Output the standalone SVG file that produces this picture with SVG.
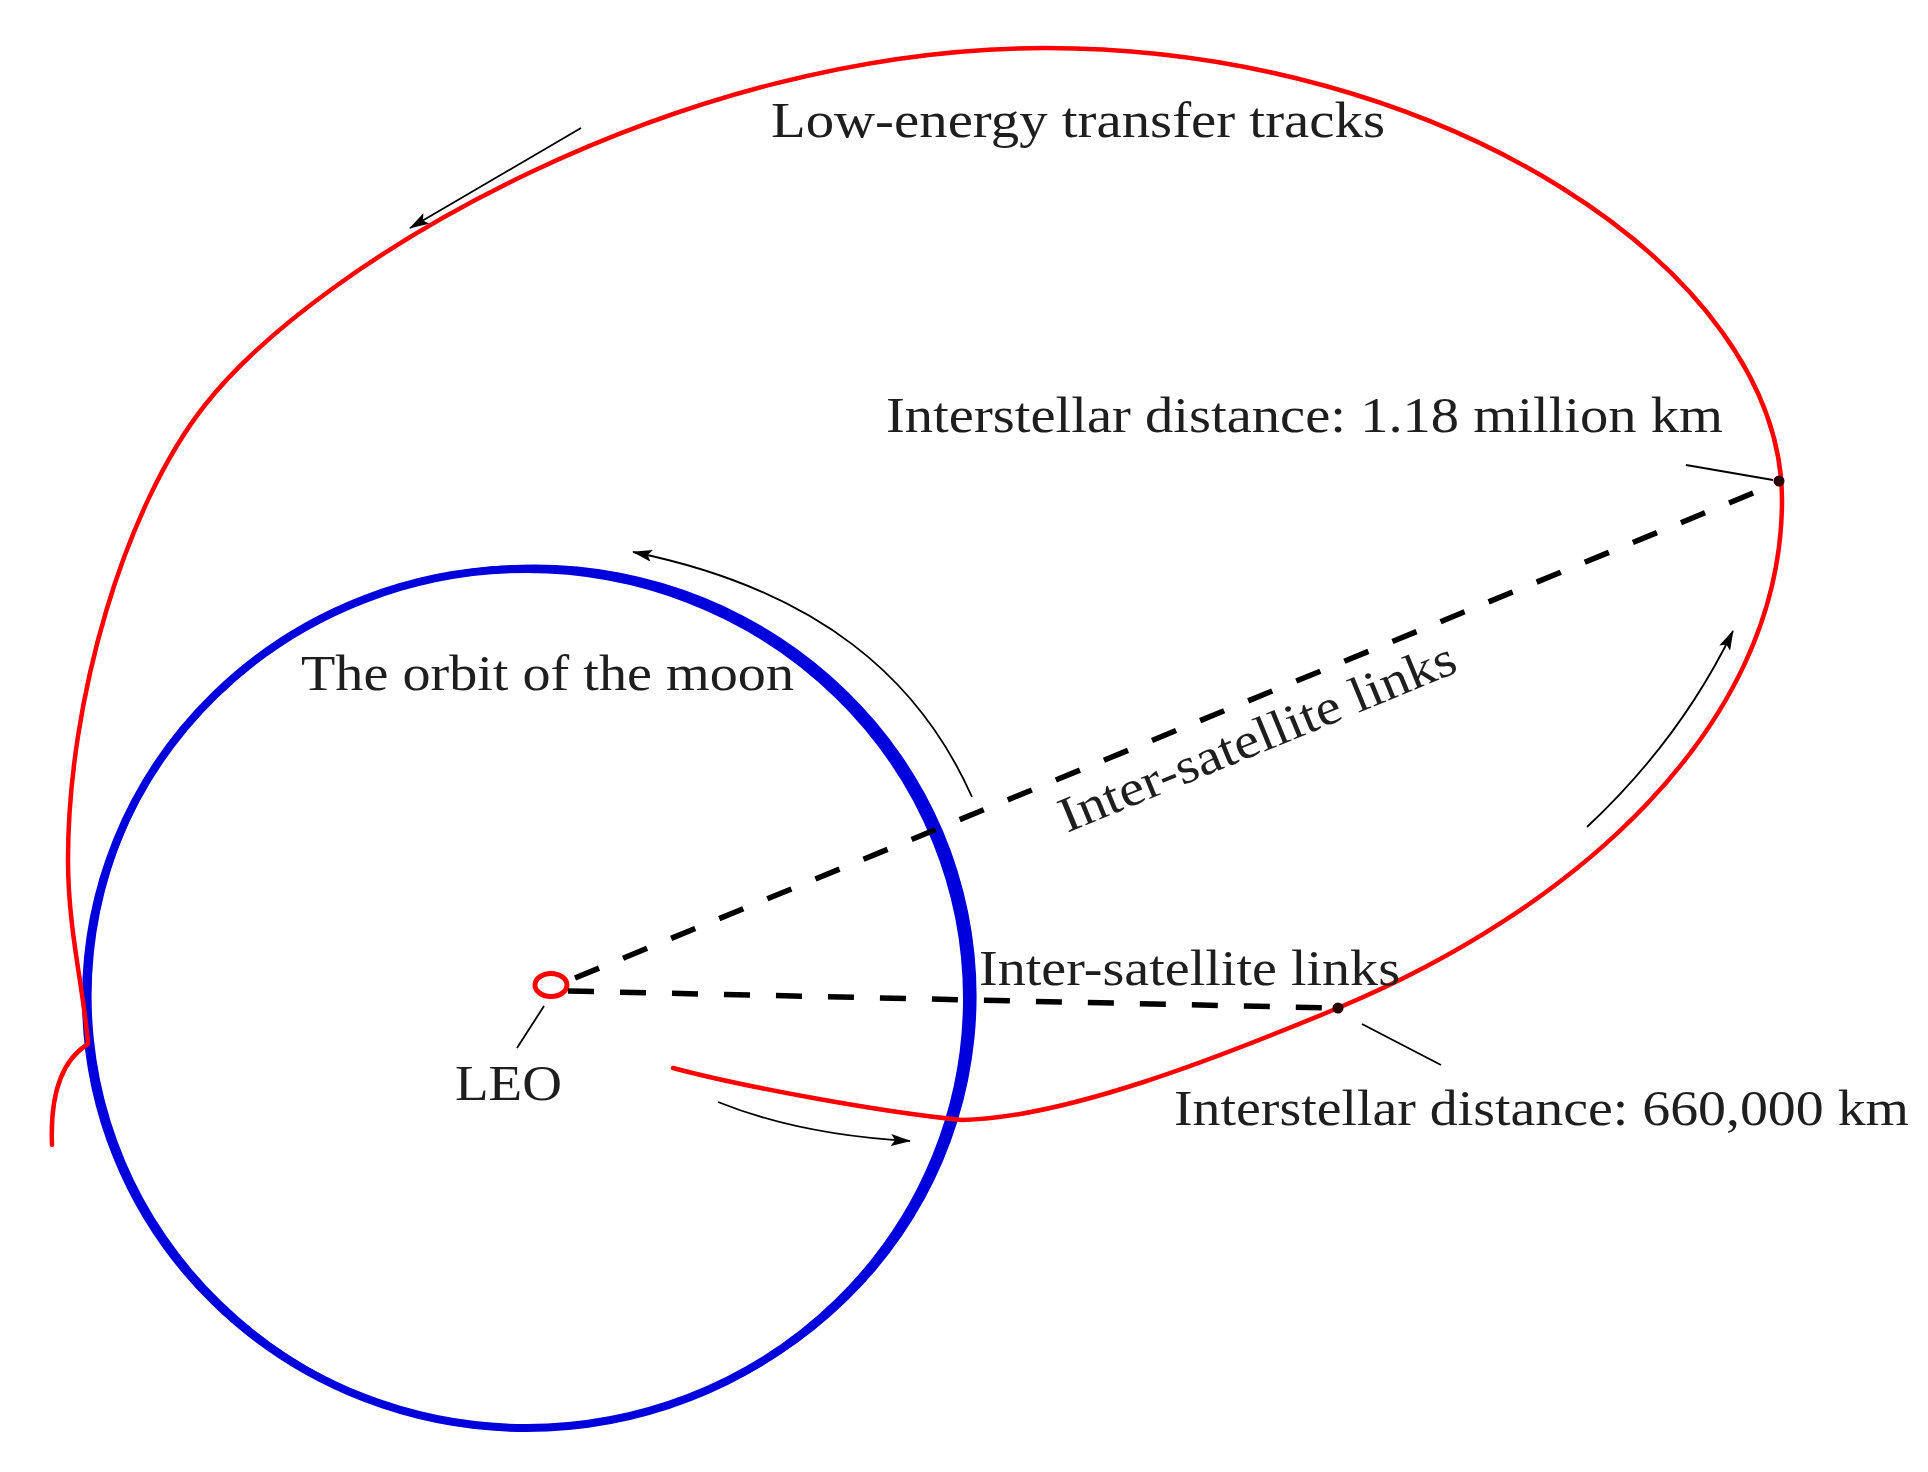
<svg xmlns="http://www.w3.org/2000/svg" width="1928" height="1472" viewBox="0 0 1928 1472">
<style>
.lbl{font-family:"Liberation Serif","Times New Roman",serif;font-size:50px;fill:#1e1e1e}
.red{fill:none;stroke:#ff0000;stroke-width:4.5;stroke-linecap:round;stroke-linejoin:round}
.link{fill:none;stroke:#000;stroke-width:5.5;stroke-dasharray:26 26}
.thin{fill:none;stroke:#000;stroke-width:1.8}
.arr{fill:none;stroke:#000;stroke-width:1.8;marker-end:url(#ah)}
</style>
<defs>
<marker id="ah" viewBox="0 0 20 12" refX="19" refY="6" markerWidth="20" markerHeight="12" markerUnits="userSpaceOnUse" orient="auto">
<path d="M0,0 L20,6 L0,12 L4,6 z" fill="#000"/>
</marker>
</defs>
<rect width="1928" height="1472" fill="#fff"/>

<g id="moon-orbit">
<ellipse cx="526.5" cy="998.5" rx="440.5" ry="429.5" fill="none" stroke="#0000dd" stroke-width="8"/>
<path fill="#0000dd" fill-rule="evenodd" d="M84 998.5 A442.5 431.5 0 1 0 969 998.5 A442.5 431.5 0 1 0 84 998.5 Z M91.6 996 A442.5 431.5 0 1 0 976.6 996 A442.5 431.5 0 1 0 91.6 996 Z"/>
</g>

<g id="transfer-track">
<path class="red" d="M52 1145 C50 1095 62 1060 88 1044 C84 990 68 930 68 860 C68 700 124.4 507 205 405 C319.7 259.8 680 48 1045 48 C1440 48 1782 270 1782 500 C1782 730 1569 912 1338 1008 C1218 1058 1065 1118 962 1120 C880 1112 740 1086 673 1068"/>
</g>

<g id="leo">
<ellipse cx="551" cy="985" rx="16" ry="11.5" fill="none" stroke="#ff0000" stroke-width="5"/>
</g>

<g id="point-far">
<circle cx="1779" cy="481" r="5.5" fill="#2a0000"/>
</g>
<g id="point-near">
<circle cx="1338" cy="1008" r="5.5" fill="#2a0000"/>
</g>

<g id="connectors">
<line class="link" x1="575" y1="978" x2="1775" y2="484"/>
<line class="link" x1="568" y1="991" x2="1334" y2="1008"/>
<path class="arr" d="M581 128 L410 228"/>
<path class="arr" d="M972 797 C920 680 820 590 633 552"/>
<path class="arr" d="M718 1102 Q800 1135 910 1141"/>
<path class="arr" d="M1587 827 Q1680 740 1733 631"/>
<line class="thin" x1="544" y1="1006" x2="517" y2="1048"/>
<line class="thin" x1="1686" y1="465" x2="1773" y2="480"/>
<line class="thin" x1="1362" y1="1024" x2="1441" y2="1065"/>
</g>

<g id="label-track"><text class="lbl" x="771" y="137" textLength="614" lengthAdjust="spacingAndGlyphs">Low-energy transfer tracks</text></g>
<g id="label-far"><text class="lbl" x="886" y="432" textLength="837" lengthAdjust="spacingAndGlyphs">Interstellar distance: 1.18 million km</text></g>
<g id="label-moon"><text class="lbl" x="301" y="690" textLength="493" lengthAdjust="spacingAndGlyphs">The orbit of the moon</text></g>
<g id="label-link-1"><text class="lbl" transform="translate(1067,833) rotate(-22.4)" x="0" y="0" textLength="425" lengthAdjust="spacingAndGlyphs">Inter-satellite links</text></g>
<g id="label-link-2"><text class="lbl" x="979" y="985" textLength="421" lengthAdjust="spacingAndGlyphs">Inter-satellite links</text></g>
<g id="label-leo"><text class="lbl" x="455" y="1100" textLength="107" lengthAdjust="spacingAndGlyphs">LEO</text></g>
<g id="label-near"><text class="lbl" x="1174" y="1125" textLength="735" lengthAdjust="spacingAndGlyphs">Interstellar distance: 660,000 km</text></g>
</svg>
